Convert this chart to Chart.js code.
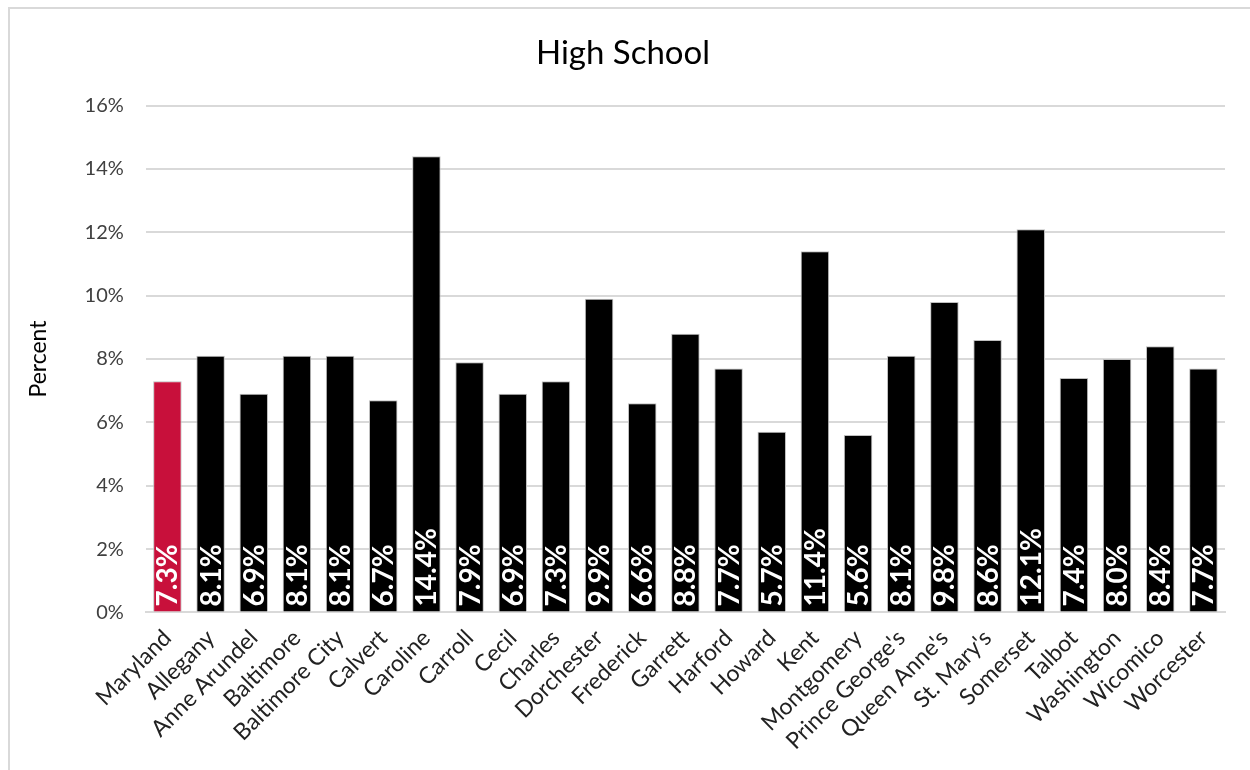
<!DOCTYPE html>
<html>
<head>
<meta charset="utf-8">
<script src="https://cdn.jsdelivr.net/npm/chart.js@4"></script>
<style>
  html, body { margin: 0; padding: 0; background: #fff; overflow: hidden; }
  #wrap { position: absolute; left: 8px; top: 7px; width: 1242px; height: 763px; border-top: 2px solid #d9d9d9; border-left: 2px solid #d9d9d9; box-sizing: border-box; }
</style>
</head>
<body>
<div id="wrap"><canvas id="myChart"></canvas></div>
<script>
const counties = ['Maryland', 'Allegany', 'Anne Arundel', 'Baltimore', 'Baltimore City', 'Calvert', 'Caroline', 'Carroll', 'Cecil', 'Charles', 'Dorchester', 'Frederick', 'Garrett', 'Harford', 'Howard', 'Kent', 'Montgomery', "Prince George's", "Queen Anne's", "St. Mary's", 'Somerset', 'Talbot', 'Washington', 'Wicomico', 'Worcester'];
const percents = [7.3, 8.1, 6.9, 8.1, 8.1, 6.7, 14.4, 7.9, 6.9, 7.3, 9.9, 6.6, 8.8, 7.7, 5.7, 11.4, 5.6, 8.1, 9.8, 8.6, 12.1, 7.4, 8.0, 8.4, 7.7];
const yTicks = [0, 2, 4, 6, 8, 10, 12, 14, 16];

const fontFam = "Lato, 'Open Sans', sans-serif";

// white rotated value labels at the base of each bar
const barLabels = {
    id: 'barLabels',
    afterDatasetsDraw(chart) {
        const ctx = chart.ctx;
        const meta = chart.getDatasetMeta(0);
        ctx.save();
        ctx.fillStyle = '#ffffff';
        ctx.font = "bold 28px " + fontFam;
        ctx.textAlign = 'left';
        ctx.textBaseline = 'middle';
        meta.data.forEach((bar, i) => {
            ctx.save();
            ctx.translate(bar.x + 1, bar.base - 5);
            ctx.rotate(-Math.PI / 2);
            ctx.fillText(percents[i].toFixed(1) + '%', 0, 0);
            ctx.restore();
        });
        ctx.restore();
    }
};

const ctx = document.getElementById('myChart').getContext('2d');
new Chart(ctx, {
    type: 'bar',
    data: {
        labels: counties,
        datasets: [{
            data: percents,
            backgroundColor: counties.map((c, i) => i === 0 ? '#c8103b' : '#000000'),
            borderColor: '#bfbfbf',
            borderWidth: 1,
            categoryPercentage: 1,
            barPercentage: 0.66
        }]
    },
    options: {
        responsive: true,
        maintainAspectRatio: false,
        animation: false,
        layout: { padding: { left: 11, right: 25, top: 0, bottom: 11 } },
        plugins: {
            legend: { display: false },
            tooltip: { enabled: false },
            title: {
                display: true,
                text: 'High School',
                color: '#000',
                font: { family: fontFam, size: 33, weight: 'normal' },
                padding: { top: 25, bottom: 32 }
            }
        },
        scales: {
            x: {
                grid: { display: false },
                border: { color: '#d9d9d9', width: 2 },
                ticks: {
                    color: '#222',
                    font: { family: fontFam, size: 23 },
                    maxRotation: 45,
                    minRotation: 45,
                    autoSkip: false,
                    padding: 4
                }
            },
            y: {
                min: 0,
                max: 16,
                afterBuildTicks: axis => { axis.ticks = yTicks.map(v => ({ value: v })); },
                grid: { color: '#d9d9d9', lineWidth: 2, drawTicks: false },
                border: { display: false },
                title: {
                    display: true,
                    text: 'Percent',
                    color: '#000',
                    font: { family: fontFam, size: 23 },
                    padding: { bottom: 10 }
                },
                ticks: {
                    color: '#404040',
                    font: { family: fontFam, size: 20 },
                    padding: 22,
                    callback: v => v + '%'
                }
            }
        }
    },
    plugins: [barLabels]
});
</script>
</body>
</html>
